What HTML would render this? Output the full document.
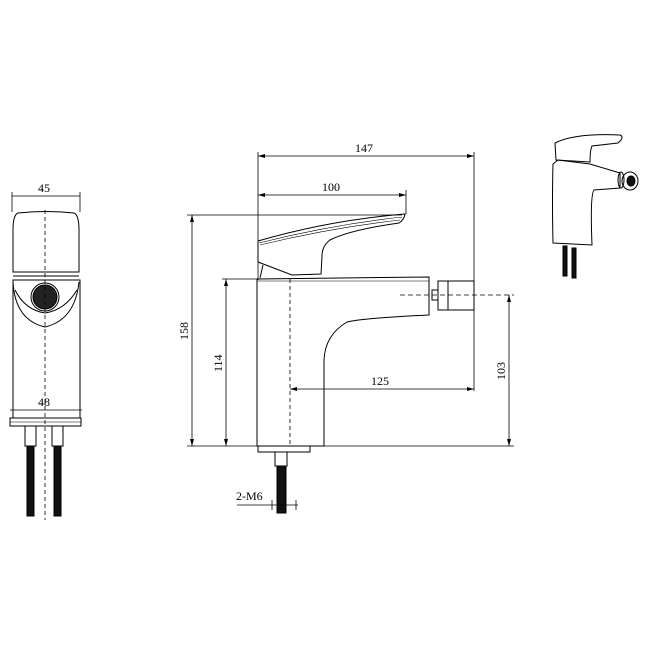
<!DOCTYPE html>
<html><head><style>body{margin:0;background:#fff}svg{display:block}text{font-family:"Liberation Serif",serif;font-size:12px;fill:#000}</style></head><body>
<svg width="650" height="650" viewBox="0 0 650 650" fill="none" stroke="#000" stroke-width="1">
<!-- LEFT VIEW -->
<line x1="12" y1="196" x2="80" y2="196" stroke-width="0.8"/><line x1="12" y1="192" x2="12" y2="212" stroke-width="0.8"/><line x1="80" y1="192" x2="80" y2="212" stroke-width="0.8"/>
<text x="38" y="192" stroke="none">45</text>
<path d="M18 213 Q46 210 74 213 Q79 215 79 230 L79 272 L13 272 L13 230 Q13 215 18 213 Z"/>
<line x1="13" y1="276" x2="79" y2="276"/>
<path d="M13 280 L13 418 L80 418 L80 280 Z"/>
<path d="M13 282 Q15 320 45 327 Q75 320 79 282"/>
<path d="M15 290 Q25 310 45 313 Q65 310 77 290"/>
<circle cx="45" cy="297" r="14"/><circle cx="45" cy="297" r="12" fill="#222"/>
<line x1="10" y1="410" x2="82" y2="410" stroke-width="0.8"/>
<text x="38" y="406" stroke="none">48</text>
<rect x="10" y="418" width="71" height="8"/>
<line x1="10" y1="422" x2="81" y2="422" stroke-width="0.6"/>
<rect x="25" y="426" width="11" height="20"/><rect x="52" y="426" width="11" height="20"/>
<rect x="27" y="446" width="7" height="70" fill="#111"/><rect x="54" y="446" width="7" height="70" fill="#111"/>
<line x1="45" y1="210" x2="45" y2="520" stroke-dasharray="4,3" stroke-width="0.8"/>
<!-- SIDE VIEW dims -->
<g stroke-width="0.8">
<line x1="258" y1="156" x2="474" y2="156"/><line x1="258" y1="152" x2="258" y2="280"/><line x1="474" y1="152" x2="474" y2="391"/>
<line x1="258" y1="195" x2="406" y2="195"/><line x1="406" y1="190" x2="406" y2="214"/>
<line x1="187" y1="215" x2="402" y2="215"/><line x1="192" y1="215" x2="192" y2="446"/>
<line x1="222" y1="279" x2="258" y2="279"/><line x1="226" y1="279" x2="226" y2="446"/>
<line x1="187" y1="446" x2="514" y2="446"/><line x1="509" y1="295" x2="509" y2="446"/>
<line x1="290" y1="389" x2="474" y2="389"/>
<line x1="400" y1="295" x2="514" y2="295" stroke-dasharray="5,3"/>
<line x1="290" y1="279" x2="290" y2="446" stroke-dasharray="4,3"/>
</g>
<g fill="#000" stroke="none">
<path d="M258 156 l7 -2 v4z"/><path d="M474 156 l-7 -2 v4z"/>
<path d="M258 195 l7 -2 v4z"/><path d="M406 195 l-7 -2 v4z"/>
<path d="M192 215 l-2 7 h4z"/><path d="M192 446 l-2 -7 h4z"/>
<path d="M226 279 l-2 7 h4z"/><path d="M226 446 l-2 -7 h4z"/>
<path d="M509 295 l-2 7 h4z"/><path d="M509 446 l-2 -7 h4z"/>
<path d="M290 389 l7 -2 v4z"/><path d="M474 389 l-7 -2 v4z"/>
</g>
<text x="355" y="152" stroke="none">147</text>
<text x="322" y="191" stroke="none">100</text>
<text x="371" y="385" stroke="none">125</text>
<text transform="translate(188,340) rotate(-90)" stroke="none">158</text>
<text transform="translate(222,372) rotate(-90)" stroke="none">114</text>
<text transform="translate(505,380) rotate(-90)" stroke="none">103</text>
<!-- handle -->
<path d="M258 241 Q330 220 405 214 Q404 220 399 223 Q350 230 330 240 Q322 246 322 256 L321 274 L292 275 L258 262 Z"/>
<path d="M259 243 Q330 225 402 217" stroke-width="0.6"/>
<path d="M260 245 Q330 228 400 220" stroke-width="0.6"/>
<line x1="263" y1="265" x2="260" y2="278"/>
<!-- body -->
<path d="M257 279 L429 277 L429 315 Q365 318 347 322 Q325 335 324 360 L324 446 L257 446 Z"/>
<line x1="257" y1="281" x2="429" y2="281" stroke-width="0.6"/>
<rect x="432" y="290" width="6" height="10"/>
<rect x="438" y="281" width="36" height="29"/>
<line x1="448" y1="281" x2="448" y2="310"/>
<rect x="258" y="446" width="52" height="6"/>
<rect x="275" y="452" width="12" height="14"/>
<rect x="277" y="466" width="9" height="47" fill="#111"/>
<text x="236" y="500" stroke="none">2-M6</text>
<line x1="237" y1="505" x2="298" y2="505" stroke-width="0.8"/>
<line x1="272" y1="500" x2="272" y2="510" stroke-width="0.8"/><line x1="296" y1="500" x2="296" y2="510" stroke-width="0.8"/>
<!-- ISO -->
<path d="M555 143 Q575 133 620 135 Q625 137 618 143 L592 146 Q590 150 590 162 L556 160 Z"/>
<path d="M553 164 L558 160 L590 164 L620 173 L620 188 L594 190 Q590 195 592 245 L553 243 Q552 200 553 164 Z"/>
<ellipse cx="630" cy="181" rx="8" ry="9"/><ellipse cx="631" cy="181" rx="4" ry="5" fill="#111"/>
<ellipse cx="621" cy="180" rx="3" ry="8"/>
<rect x="563" y="246" width="4" height="30" fill="#111"/><rect x="572" y="248" width="4" height="30" fill="#111"/>
</svg>
</body></html>
